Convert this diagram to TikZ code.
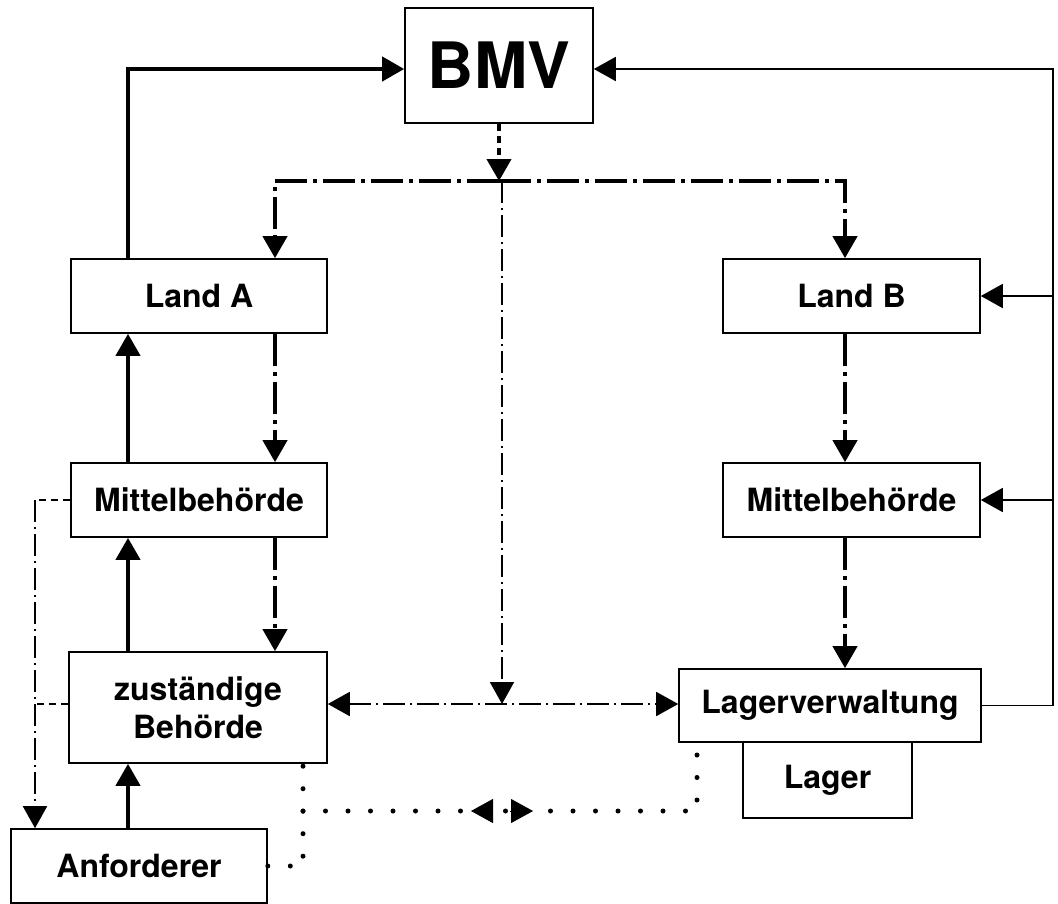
\documentclass[tikz,border=0pt]{standalone}
\usepackage{fontspec}
\setmainfont{TeX Gyre Heros}
\usetikzlibrary{arrows.meta,calc}
\begin{document}
\begin{tikzpicture}[x=1pt,y=-1pt,
  >={Triangle[length=22pt,width=24pt]},
  box/.style={draw,line width=1.6pt,inner sep=0pt,font=\fontsize{32}{38}\selectfont\bfseries,align=center},
  thickline/.style={line width=4pt},
  thickdd/.style={line width=4pt,dash pattern=on 32pt off 6pt on 4pt off 6pt},
  thindd/.style={line width=1.8pt,dash pattern=on 22pt off 5pt on 2pt off 5pt},
  thindash/.style={line width=1.8pt,dash pattern=on 7pt off 5pt},
  thickdash/.style={line width=4pt,dash pattern=on 7pt off 5pt},
  dotline/.style={line width=5pt,line cap=round,dash pattern=on 0pt off 22.5pt},
  fb/.style={line width=1.8pt}]
\useasboundingbox (0,0) rectangle (1058,903);
% nodes
\node[box,minimum width=188pt,minimum height=115pt,font=\fontsize{64}{72}\selectfont\bfseries] (BMV) at (499,65.5) {BMV};
\node[box,minimum width=256pt,minimum height=74pt] (LandA) at (199,296) {Land A};
\node[box,minimum width=256pt,minimum height=74pt] (MitA) at (199,500) {Mittelbehörde};
\node[box,minimum width=258pt,minimum height=111pt] (Zust) at (198,707.5) {zuständige\\Behörde};
\node[box,minimum width=256pt,minimum height=74pt] (Anf) at (139,866) {Anforderer};
\node[box,minimum width=257pt,minimum height=74pt] (LandB) at (851.5,296) {Land B};
\node[box,minimum width=257pt,minimum height=74pt] (MitB) at (851.5,500) {Mittelbehörde};
\node[box,minimum width=169pt,minimum height=76pt] (Lager) at (827.5,780) {Lager};
\node[box,minimum width=302pt,minimum height=73pt] (LV) at (830,705.5) {Lagerverwaltung};
% helper coordinates
\coordinate (xA) at (128,0);
\coordinate (xB) at (275,0);
\coordinate (xC) at (845,0);
\coordinate (xR) at (1053,0);
\coordinate (xL) at (35,0);
\coordinate (xM) at (502,0);
\coordinate (xP) at (303,0);
\coordinate (xQ) at (697,0);
\coordinate (yD) at (0,181);
\coordinate (yTop) at (0,69);
\coordinate (yMid) at (0,704);
\coordinate (yDot) at (0,811);
\coordinate (dc) at (501,811);
% connectors
\draw[thickline,->] (LandA.north -| xA) |- (BMV.west |- yTop);
\draw[thickdash,->] (BMV.south) -- (BMV.south |- yD);
\draw[thickdd,->] (BMV.south |- yD) -| (LandA.north -| xB);
\draw[thickdd,->] (BMV.south |- yD) -| (LandB.north -| xC);
\draw[thickdd,->] (LandA.south -| xB) -- (MitA.north -| xB);
\draw[thickdd,->] (MitA.south -| xB) -- (Zust.north -| xB);
\draw[thickline,->] (MitA.north -| xA) -- (LandA.south -| xA);
\draw[thickline,->] (Zust.north -| xA) -- (MitA.south -| xA);
\draw[thickline,->] (Anf.north -| xA) -- (Zust.south -| xA);
\draw[thickdd,->] (LandB.south -| xC) -- (MitB.north -| xC);
\draw[thickdd,->] (MitB.south -| xC) -- (LV.north -| xC);
\draw[thindd,->] (xM |- yD) -- (xM |- yMid);
\draw[thindd,<->] (Zust.east |- yMid) -- (LV.west |- yMid);
\draw[fb,->] (LV.east) -| (xR |- yTop) -- (BMV.east |- yTop);
\draw[fb,->] (xR |- LandB.east) -- (LandB.east);
\draw[fb,->] (xR |- MitB.east) -- (MitB.east);
\draw[thindash] (MitA.west) -- (xL |- MitA.west);
\draw[thindd,->] (xL |- MitA.west) -- (Anf.north -| xL);
\draw[thindash] (Zust.west |- yMid) -- (xL |- yMid);
\draw[dotline] (Anf.east) -| (Zust.south -| xP);
\draw[dotline] (xP |- yDot) -- (xQ |- yDot) -- (LV.south -| xQ);
\draw[line width=1pt,->] ($(dc)+(-9,0)$) -- ($(dc)+(-30,0)$);
\draw[line width=1pt,->] ($(dc)+(9,0)$) -- ($(dc)+(32,0)$);
\end{tikzpicture}
\end{document}
